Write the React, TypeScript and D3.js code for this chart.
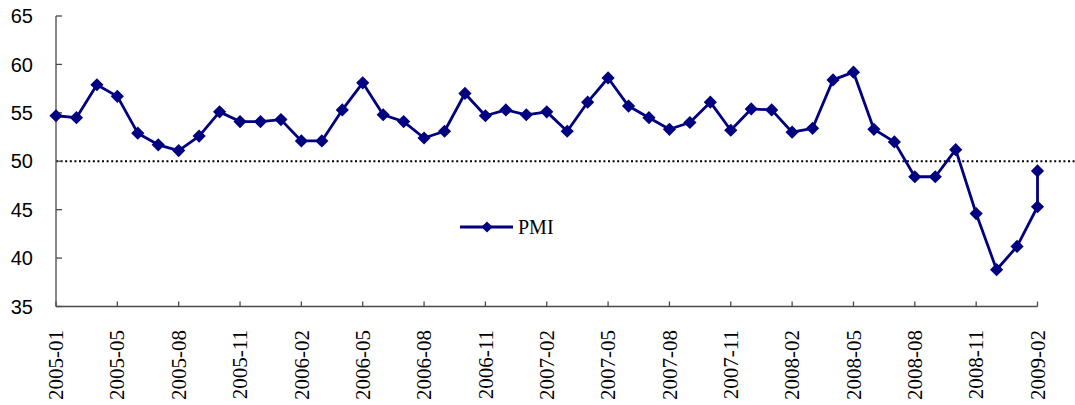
import React from "react";
import * as d3 from "d3";

// Monthly PMI readings, 2005-01 through 2009-02
const months = [
  "2005-01", "2005-02", "2005-03", "2005-04", "2005-05", "2005-06", "2005-07", "2005-08", "2005-09", "2005-10", "2005-11", "2005-12",
  "2006-01", "2006-02", "2006-03", "2006-04", "2006-05", "2006-06", "2006-07", "2006-08", "2006-09", "2006-10", "2006-11", "2006-12",
  "2007-01", "2007-02", "2007-03", "2007-04", "2007-05", "2007-06", "2007-07", "2007-08", "2007-09", "2007-10", "2007-11", "2007-12",
  "2008-01", "2008-02", "2008-03", "2008-04", "2008-05", "2008-06", "2008-07", "2008-08", "2008-09", "2008-10", "2008-11", "2008-12",
  "2009-01", "2009-02",
];
const pmi = [
  54.7, 54.5, 57.9, 56.7, 52.9, 51.7, 51.1, 52.6, 55.1, 54.1, 54.1, 54.3,
  52.1, 52.1, 55.3, 58.1, 54.8, 54.1, 52.4, 53.1, 57.0, 54.7, 55.3, 54.8,
  55.1, 53.1, 56.1, 58.6, 55.7, 54.5, 53.3, 54.0, 56.1, 53.2, 55.4, 55.3,
  53.0, 53.4, 58.4, 59.2, 53.3, 52.0, 48.4, 48.4, 51.2, 44.6, 38.8, 41.2,
  45.3, 49.0,
];

// Category axis: 49 slots, labelled every third slot
const slotCount = 49;
const tickLabels = [
  "2005-01", "2005-05", "2005-08", "2005-11", "2006-02", "2006-05", "2006-08", "2006-11", "2007-02",
  "2007-05", "2007-08", "2007-11", "2008-02", "2008-05", "2008-08", "2008-11", "2009-02",
];
const tickEvery = 3;
const yTicks = [35, 40, 45, 50, 55, 60, 65];
const threshold = 50;
const seriesName = "PMI";

const W = 1075;
const H = 405;
const left = 56;
const right = 1037.5;
const top = 16;
const bottom = 306.5;
const navy = "#000080";
const axisColor = "#4a4a4a";

export default function App() {
  const slots = d3.range(slotCount);
  const x = d3.scalePoint<number>().domain(slots).range([left, right]);
  const y = d3.scaleLinear().domain([35, 65]).range([bottom, top]);

  // the final two readings share the last slot of the category axis
  const points = pmi.map((v, i) => ({ month: months[i], slot: Math.min(i, slotCount - 1), v }));
  const line = d3
    .line<{ slot: number; v: number }>()
    .x((d) => x(d.slot) as number)
    .y((d) => y(d.v));

  const diamond = (cx: number, cy: number, r: number) =>
    `M${cx},${cy - r}L${cx + r},${cy}L${cx},${cy + r}L${cx - r},${cy}Z`;

  const legendX = 460;
  const legendY = 227;

  return (
    <svg
      width={W}
      height={H}
      style={{ position: "absolute", left: 0, top: 0, background: "#fff" }}
    >
      {/* threshold line */}
      <line
        x1={left}
        x2={W}
        y1={y(threshold)}
        y2={y(threshold)}
        stroke="#000"
        strokeWidth={2}
        strokeDasharray="2,2.6"
      />

      {/* y axis */}
      <line x1={left} x2={left} y1={top} y2={bottom} stroke={axisColor} strokeWidth={1.3} />
      {yTicks.map((t) => (
        <g key={t}>
          <line x1={left} x2={left + 6} y1={y(t)} y2={y(t)} stroke={axisColor} strokeWidth={1.3} />
          <text
            x={33}
            y={y(t)}
            dy="0.36em"
            textAnchor="end"
            fontFamily="'Liberation Sans', Arial, sans-serif"
            fontSize={20}
            fill="#000"
          >
            {t}
          </text>
        </g>
      ))}

      {/* x axis */}
      <line x1={left} x2={right} y1={bottom} y2={bottom} stroke={axisColor} strokeWidth={1.3} />
      {tickLabels.map((lab, k) => {
        const tx = x(k * tickEvery) as number;
        return (
          <g key={lab}>
            <line x1={tx} x2={tx} y1={bottom} y2={bottom - 5} stroke={axisColor} strokeWidth={1.3} />
            <text
              transform={`translate(${tx},330) rotate(-90)`}
              dy="0.34em"
              textAnchor="end"
              fontFamily="'Liberation Serif', 'Times New Roman', serif"
              fontSize={21}
              fill="#000"
            >
              {lab}
            </text>
          </g>
        );
      })}

      {/* series */}
      <path d={line(points) ?? ""} fill="none" stroke={navy} strokeWidth={2.8} strokeLinejoin="round" />
      {points.map((p) => (
        <path key={p.month} d={diamond(x(p.slot) as number, y(p.v), 6.6)} fill={navy} />
      ))}

      {/* legend */}
      <line x1={legendX} x2={legendX + 53} y1={legendY} y2={legendY} stroke={navy} strokeWidth={2.8} />
      <path d={diamond(legendX + 27, legendY, 5.6)} fill={navy} />
      <text
        x={legendX + 58}
        y={legendY}
        dy="0.35em"
        fontFamily="'Liberation Serif', 'Times New Roman', serif"
        fontSize={20}
        fill="#000"
      >
        {seriesName}
      </text>
    </svg>
  );
}
